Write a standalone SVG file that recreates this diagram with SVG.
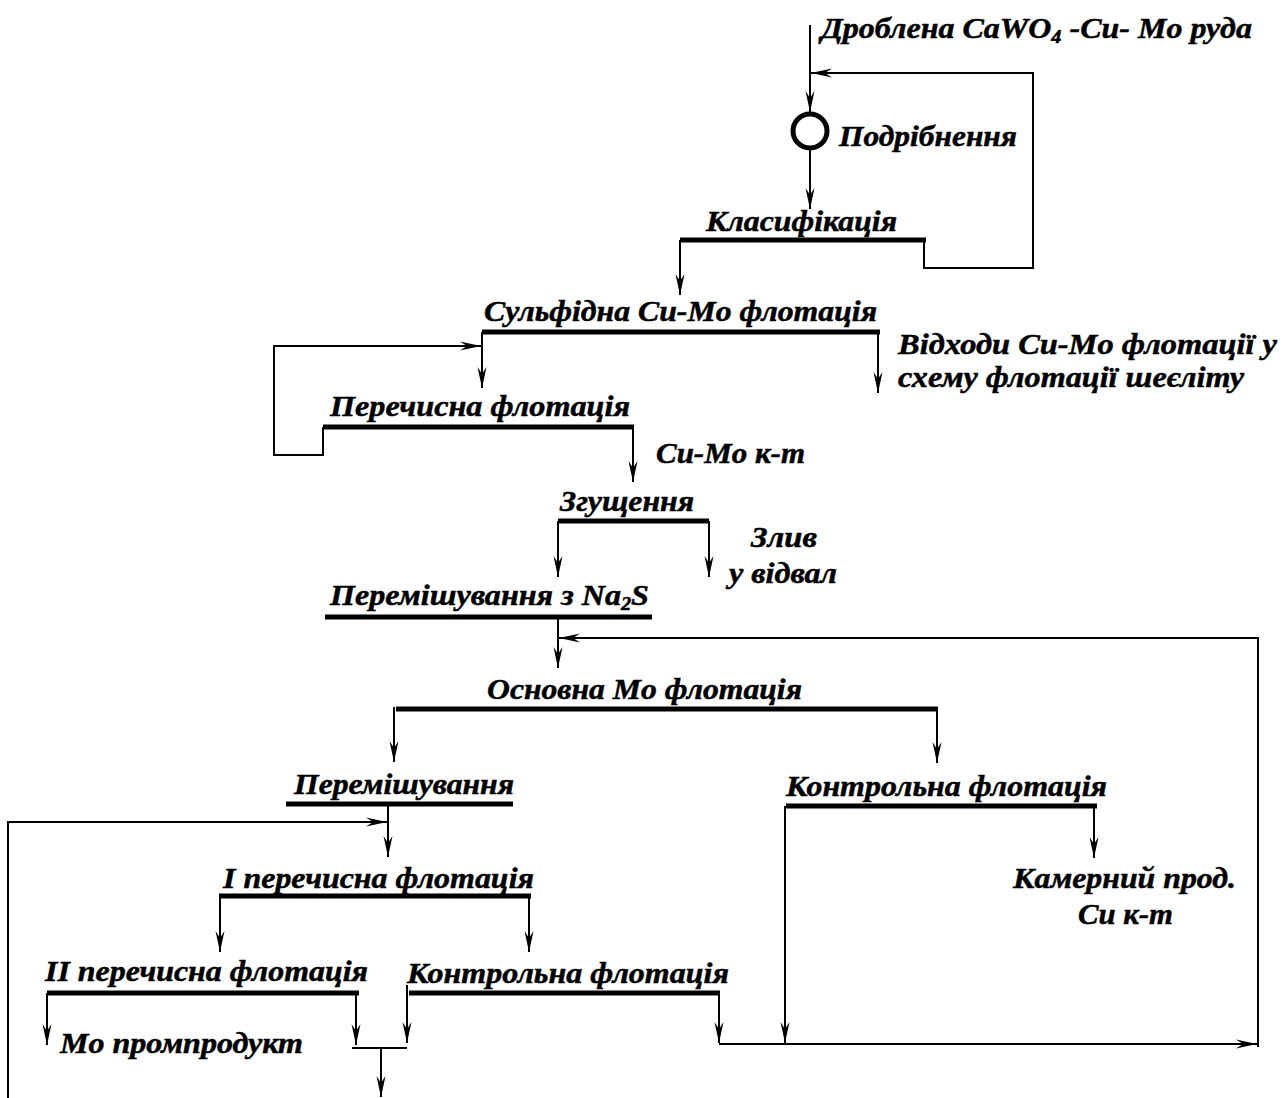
<svg xmlns="http://www.w3.org/2000/svg" width="1282" height="1098" viewBox="0 0 1282 1098">
<style>
text{font-family:"Liberation Serif","Times New Roman",serif;font-weight:bold;font-style:italic;font-size:30px;fill:#000;stroke:#000;stroke-width:0.5}
.bar{stroke:#000;stroke-width:5;fill:none}
.c{stroke:#000;stroke-width:2;fill:none}
.a{marker-end:url(#ah)}
.sub{font-size:19px}
</style>
<defs>
<marker id="ah" markerUnits="userSpaceOnUse" viewBox="-22 -6 24 12" refX="0" refY="0" markerWidth="24" markerHeight="12" orient="auto">
<path d="M0,0 L-21,-4.5 L-14,0 L-21,4.5 Z" fill="#000"/>
</marker>
</defs>
<rect width="1282" height="1098" fill="#fff"/>

<g id="feed"><text x="821" y="38" textLength="431" lengthAdjust="spacingAndGlyphs">Дроблена CaWO<tspan class="sub" dy="5">4</tspan><tspan dy="-5"> -Cu- Mo руда</tspan></text></g>
<g id="grinding"><circle cx="810" cy="131" r="17" fill="none" stroke="#000" stroke-width="5"/><text x="839" y="146" textLength="178" lengthAdjust="spacingAndGlyphs">Подрібнення</text></g>
<g id="classification"><text x="706" y="231" textLength="191" lengthAdjust="spacingAndGlyphs">Класифікація</text><line class="bar" x1="680" y1="240" x2="926" y2="240"/></g>
<g id="sulfide"><text x="484" y="321" textLength="393" lengthAdjust="spacingAndGlyphs">Сульфідна Cu-Mo флотація</text><line class="bar" x1="482" y1="332" x2="880" y2="332"/></g>
<g id="tails1"><text x="898" y="354" textLength="379" lengthAdjust="spacingAndGlyphs">Відходи Cu-Mo флотації у</text><text x="898" y="387" textLength="346" lengthAdjust="spacingAndGlyphs">схему флотації шеєліту</text></g>
<g id="cleaner"><text x="330" y="416" textLength="300" lengthAdjust="spacingAndGlyphs">Перечисна флотація</text><line class="bar" x1="323" y1="427" x2="634" y2="427"/></g>
<g id="cumo-conc"><text x="656" y="463" textLength="149" lengthAdjust="spacingAndGlyphs">Cu-Mo к-т</text></g>
<g id="thickening"><text x="560" y="511" textLength="134" lengthAdjust="spacingAndGlyphs">Згущення</text><line class="bar" x1="558" y1="521" x2="709" y2="521"/></g>
<g id="overflow"><text x="751" y="547" textLength="66" lengthAdjust="spacingAndGlyphs">Злив</text><text x="729" y="583" textLength="108" lengthAdjust="spacingAndGlyphs">у відвал</text></g>
<g id="mix-na2s"><text x="330" y="605" textLength="319" lengthAdjust="spacingAndGlyphs">Перемішування з Na<tspan class="sub" dy="5">2</tspan><tspan dy="-5">S</tspan></text><line class="bar" x1="325" y1="617" x2="652" y2="617"/></g>
<g id="rougher-mo"><text x="487" y="699" textLength="315" lengthAdjust="spacingAndGlyphs">Основна Mo флотація</text><line class="bar" x1="396" y1="709" x2="938" y2="709"/></g>
<g id="mixing"><text x="294" y="794" textLength="220" lengthAdjust="spacingAndGlyphs">Перемішування</text><line class="bar" x1="286" y1="804" x2="513" y2="804"/></g>
<g id="scavenger1"><text x="786" y="796" textLength="321" lengthAdjust="spacingAndGlyphs">Контрольна флотація</text><line class="bar" x1="786" y1="806" x2="1097" y2="806"/></g>
<g id="cleaner1"><text x="223" y="888" textLength="311" lengthAdjust="spacingAndGlyphs">I перечисна флотація</text><line class="bar" x1="219" y1="896" x2="531" y2="896"/></g>
<g id="cell-product"><text x="1013" y="888" textLength="223" lengthAdjust="spacingAndGlyphs">Камерний прод.</text><text x="1078" y="924" textLength="95" lengthAdjust="spacingAndGlyphs">Cu к-т</text></g>
<g id="cleaner2"><text x="45" y="981" textLength="323" lengthAdjust="spacingAndGlyphs">II перечисна флотація</text><line class="bar" x1="47" y1="993" x2="359" y2="993"/></g>
<g id="scavenger2"><text x="407" y="983" textLength="322" lengthAdjust="spacingAndGlyphs">Контрольна флотація</text><line class="bar" x1="409" y1="993" x2="720" y2="993"/></g>
<g id="middlings"><text x="60" y="1053" textLength="243" lengthAdjust="spacingAndGlyphs">Mo промпродукт</text></g>

<g id="connectors">
<path class="c a" d="M810,25 V112"/>
<path class="c a" d="M924,240 V268 H1033 V73 H811"/>
<path class="c a" d="M810,150 V209"/>
<path class="c a" d="M680,240 V295"/>
<path class="c a" d="M482,332 V388"/>
<path class="c a" d="M878,332 V393"/>
<path class="c a" d="M323,427 V455 H274 V346 H481"/>
<path class="c a" d="M633,427 V482"/>
<path class="c a" d="M558,521 V577"/>
<path class="c a" d="M709,521 V577"/>
<path class="c a" d="M558,617 V668"/>
<path class="c a" d="M1258,1047 V638 H559"/>
<path class="c a" d="M394,707 V762"/>
<path class="c a" d="M937,709 V763"/>
<path class="c a" d="M388,804 V857"/>
<path class="c a" d="M8,1098 V822 H387"/>
<path class="c a" d="M785,806 V1043"/>
<path class="c a" d="M1094,806 V858"/>
<path class="c a" d="M220,896 V952"/>
<path class="c a" d="M529,896 V952"/>
<path class="c a" d="M47,993 V1045"/>
<path class="c a" d="M356,993 V1045"/>
<path class="c a" d="M407,985 V1043"/>
<path class="c a" d="M719,993 V1043"/>
<path class="c a" d="M719,1044 H1257"/>
<path class="c" d="M352,1048 H407"/>
<path class="c a" d="M381,1048 V1097"/>
</g>
</svg>
